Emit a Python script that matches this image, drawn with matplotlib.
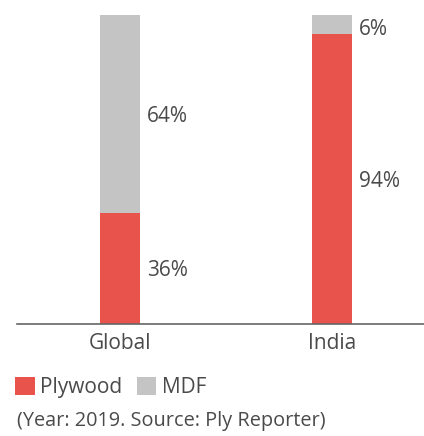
import matplotlib
matplotlib.use("Agg")
import matplotlib.pyplot as plt

categories = ["Global", "India"]
plywood = [36, 94]
mdf = [64, 6]
series_names = ["Plywood", "MDF"]
source_note = "(Year: 2019. Source: Ply Reporter)"

RED = "#E8534B"
GRAY = "#C4C4C4"
TXT = "#4A4A4A"
FS = 15

plt.rcParams['font.family'] = ['Open Sans', 'DejaVu Sans']

W, H = 424, 436
fig = plt.figure(figsize=(W / 100, H / 100), dpi=100)
ax = fig.add_axes([17 / W, (H - 324) / H, (W - 17) / W, (324 - 15) / H])

x = list(range(len(categories)))
width = 40 / 212
b1 = ax.bar(x, plywood, width, color=RED, label=series_names[0])
b2 = ax.bar(x, mdf, width, bottom=plywood, color=GRAY, label=series_names[1])

for i in x:
    for yv, val in [(plywood[i] / 2, plywood[i]), (plywood[i] + mdf[i] / 2, mdf[i])]:
        dy = -8.0 if val >= 10 else -11.0
        ax.annotate(f"{val}%", xy=(i + width / 2, yv), xytext=(7 * 0.72, dy * 0.72),
                    textcoords="offset points", ha="left", va="baseline",
                    fontsize=FS, color=TXT)

ax.set_xlim(-103 / 212, 1 + 92 / 212)
ax.set_ylim(0, 100)
ax.set_xticks(x)
ax.set_xticklabels(categories, fontsize=FS, color=TXT)
ax.tick_params(axis="x", length=0, pad=6.5)
ax.set_yticks([])
for s in ["top", "right", "left"]:
    ax.spines[s].set_visible(False)
ax.spines["bottom"].set_color("#666666")
ax.spines["bottom"].set_linewidth(1.2)

fig.legend(handles=[b1, b2], labels=series_names, loc="upper left",
           bbox_to_anchor=(15 / W, 1 - 377 / H), ncol=2, frameon=False,
           handlelength=0.95, handleheight=0.95, handletextpad=0.25,
           columnspacing=0.7, borderpad=0, borderaxespad=0,
           fontsize=FS, labelcolor=TXT)

fig.text(17 / W, 1 - 421 / H, source_note, ha="left", va="center", fontsize=14.3, color=TXT)

fig.savefig("out.png", dpi=100)
